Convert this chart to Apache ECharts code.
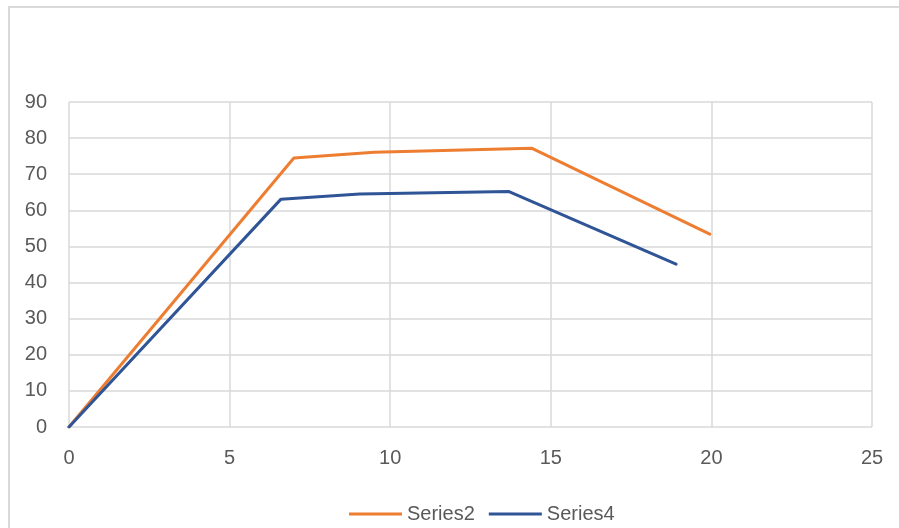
<!DOCTYPE html>
<html>
<head>
<meta charset="utf-8">
<style>
  html, body { margin: 0; padding: 0; background: #ffffff; }
  #chart { width: 899px; height: 528px; }
</style>
<script src="https://cdn.jsdelivr.net/npm/echarts@6/dist/echarts.min.js"></script>
</head>
<body>
<div id="chart"></div>
<script>
// Scatter-with-lines data: x positions and y values per series
const series2X = [0, 7.0, 9.5, 14.4, 19.95];
const series2Y = [0, 74.5, 76.1, 77.2, 53.4];
const series4X = [0, 6.6, 9.05, 13.7, 18.9];
const series4Y = [0, 63.1, 64.5, 65.2, 45.1];
const seriesNames = ['Series2', 'Series4'];

const pair = (xs, ys) => xs.map((x, i) => [x, ys[i]]);

const textColor = '#595959';
const fontFamily = '"Liberation Sans", "Noto Sans", sans-serif';

const chart = echarts.init(document.getElementById('chart'), null, { renderer: 'canvas' });
chart.setOption({
  animation: false,
  backgroundColor: '#ffffff',
  graphic: [{
    type: 'rect',
    shape: { x: 9, y: 7, width: 900, height: 530 },
    style: { fill: 'none', stroke: '#d9d9d9', lineWidth: 2 },
    silent: true
  }],
  grid: { left: 69, right: 27, top: 102, bottom: 101 },
  legend: {
    top: 499,
    left: 344,
    itemWidth: 53,
    itemHeight: 3,
    itemGap: 14,
    icon: 'rect',
    textStyle: { color: textColor, fontSize: 20, fontFamily: fontFamily },
    data: seriesNames
  },
  xAxis: {
    type: 'value',
    min: 0, max: 25, interval: 5,
    axisLine: { show: false },
    axisTick: { show: false },
    axisLabel: { color: textColor, fontSize: 20, fontFamily: fontFamily, margin: 21 },
    splitLine: { show: true, lineStyle: { color: '#d9d9d9', width: 1.5 } }
  },
  yAxis: {
    type: 'value',
    min: 0, max: 90, interval: 10,
    axisLine: { show: false },
    axisTick: { show: false },
    axisLabel: { color: textColor, fontSize: 20, fontFamily: fontFamily, margin: 22 },
    splitLine: { show: true, lineStyle: { color: '#d9d9d9', width: 1.5 } }
  },
  series: [
    {
      name: seriesNames[0],
      type: 'line',
      data: pair(series2X, series2Y),
      symbol: 'none',
      color: '#ED7D31',
      lineStyle: { width: 3, color: '#ED7D31', cap: 'round', join: 'round' }
    },
    {
      name: seriesNames[1],
      type: 'line',
      data: pair(series4X, series4Y),
      symbol: 'none',
      color: '#2F5597',
      lineStyle: { width: 3, color: '#2F5597', cap: 'round', join: 'round' }
    }
  ]
});
</script>
</body>
</html>
